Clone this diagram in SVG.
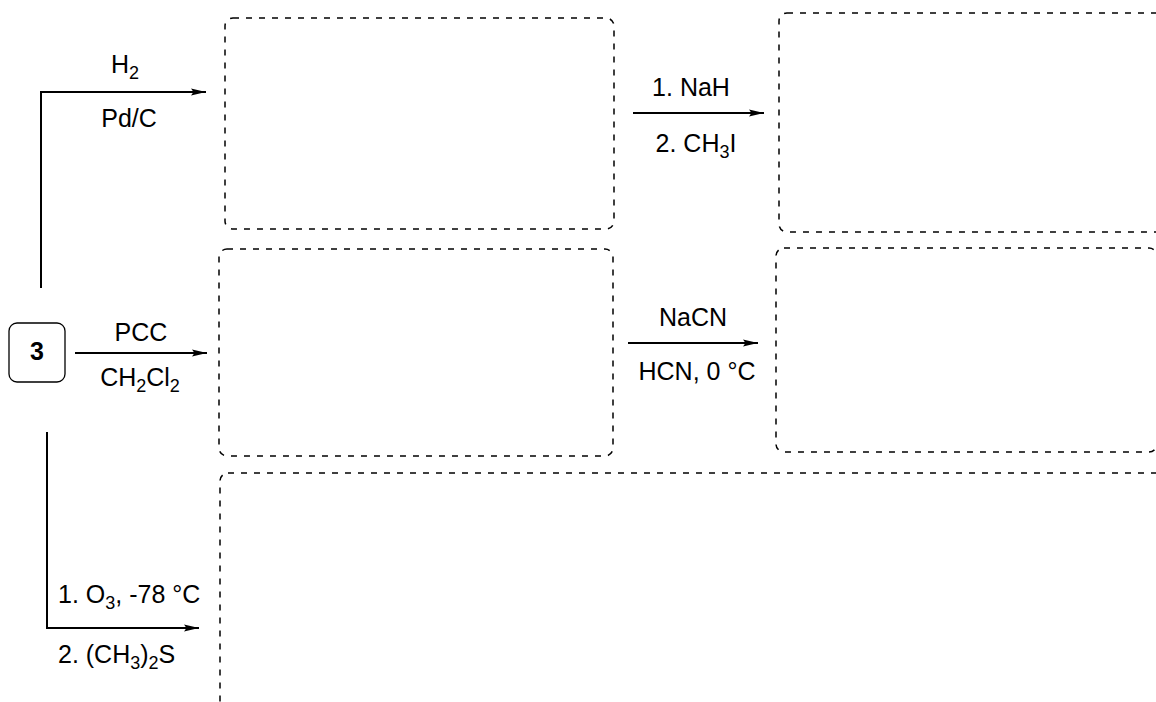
<svg xmlns="http://www.w3.org/2000/svg" width="1156" height="702" viewBox="0 0 1156 702">
<defs>
<style>
.box{fill:none;stroke:#000;stroke-width:1.5;stroke-dasharray:6,7}
.ln{fill:none;stroke:#000;stroke-width:2}
.t{font-family:"Liberation Sans",Arial,sans-serif;font-size:25px;fill:#000}
.s{font-size:18px}
</style>
<marker id="ah" markerWidth="16" markerHeight="8" refX="15" refY="4" orient="auto" markerUnits="userSpaceOnUse">
<path d="M0,0.6 L15,4 L0,7.4 L2.5,4 Z" fill="#000"/>
</marker>
</defs>
<rect width="1156" height="702" fill="#fff"/>
<g id="connectors">
<path class="ln" d="M41,288 V92 H206" marker-end="url(#ah)"/>
<path class="ln" d="M75,353 H207" marker-end="url(#ah)"/>
<path class="ln" d="M47,432 V628 H199" marker-end="url(#ah)"/>
<path class="ln" d="M633,113 H764" marker-end="url(#ah)"/>
<path class="ln" d="M628,343 H758" marker-end="url(#ah)"/>
<text class="t" x="125" y="73" text-anchor="middle">H<tspan class="s" dy="6">2</tspan></text>
<text class="t" x="129" y="127" text-anchor="middle">Pd/C</text>
<text class="t" x="141" y="341" text-anchor="middle">PCC</text>
<text class="t" x="140" y="386" text-anchor="middle">CH<tspan class="s" dy="6">2</tspan><tspan dy="-6">Cl</tspan><tspan class="s" dy="6">2</tspan></text>
<text class="t" x="58" y="603">1. O<tspan class="s" dy="6">3</tspan><tspan dy="-6">, -78 °C</tspan></text>
<text class="t" x="58" y="663">2. (CH<tspan class="s" dy="6">3</tspan><tspan dy="-6">)</tspan><tspan class="s" dy="6">2</tspan><tspan dy="-6">S</tspan></text>
<text class="t" x="691" y="96" text-anchor="middle">1. NaH</text>
<text class="t" x="696" y="152" text-anchor="middle">2. CH<tspan class="s" dy="6">3</tspan><tspan dy="-6">I</tspan></text>
<text class="t" x="693" y="326" text-anchor="middle">NaCN</text>
<text class="t" x="697" y="380" text-anchor="middle">HCN, 0 °C</text>
</g>
<g id="node-3">
<rect x="9" y="323" width="56" height="59" rx="8" fill="none" stroke="#000" stroke-width="1.3"/>
<text class="t" x="37" y="360" text-anchor="middle" font-weight="bold" font-size="23">3</text>
</g>
<g id="box-a"><rect class="box" x="225" y="18" width="389" height="211" rx="8"/></g>
<g id="box-b"><rect class="box" x="219" y="249" width="394" height="207" rx="8"/></g>
<g id="box-c"><rect class="box" x="779" y="13" width="420" height="219" rx="8"/></g>
<g id="box-d"><rect class="box" x="776" y="248" width="381" height="204" rx="8"/></g>
<g id="box-e"><rect class="box" x="220" y="473" width="1000" height="300" rx="8"/></g>
</svg>
